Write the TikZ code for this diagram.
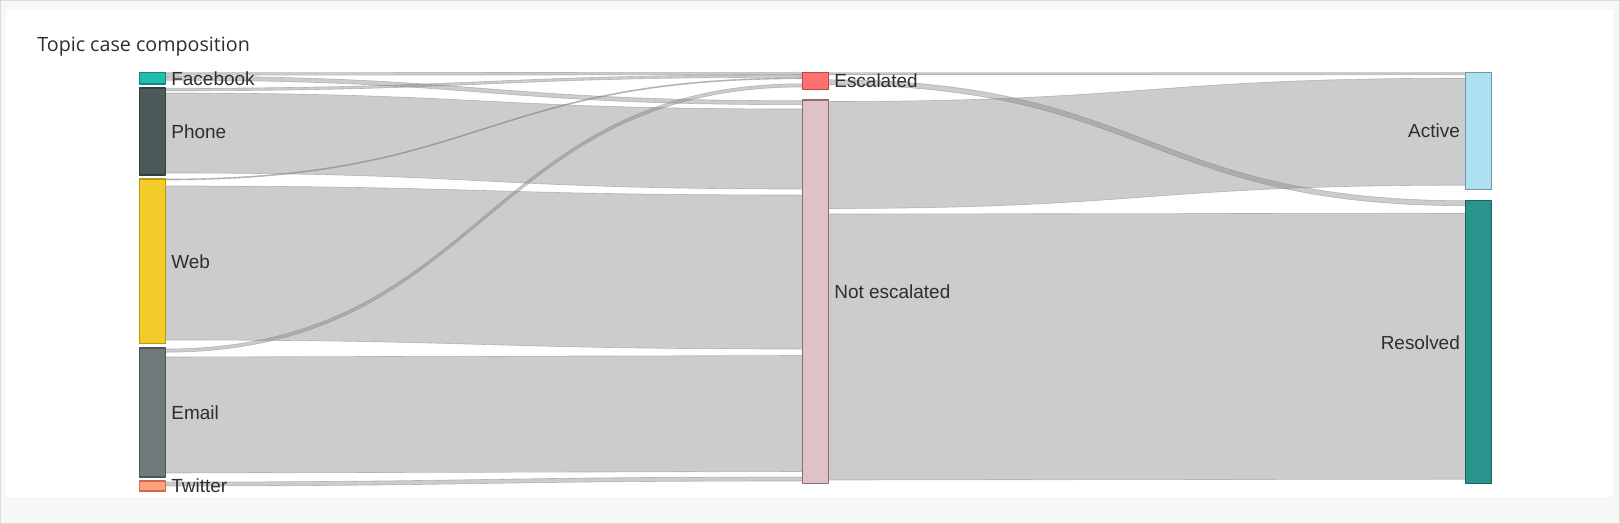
\documentclass[tikz,border=0pt]{standalone}
\usepackage{xcolor}
\usepackage{fontspec}
\setmainfont{Liberation Sans}
\newfontfamily\titlefont{Open Sans}
\usepackage{tikz}
\usetikzlibrary{positioning,calc,backgrounds}
\definecolor{qqbfaf}{rgb}{0.12,0.75,0.69}
\definecolor{qqcbcb}{rgb}{0.09,0.52,0.48}
\definecolor{dsfafa}{rgb}{0.29,0.35,0.35}
\definecolor{cdcfcf}{rgb}{0.2,0.25,0.25}
\definecolor{ffcdqq}{rgb}{0.95,0.8,0.16}
\definecolor{bbaaqq}{rgb}{0.72,0.6,0.08}
\definecolor{gfhchc}{rgb}{0.43,0.48,0.48}
\definecolor{ccdfdf}{rgb}{0.3,0.34,0.34}
\definecolor{ffaawx}{rgb}{1.,0.63,0.48}
\definecolor{ccgaea}{rgb}{0.78,0.42,0.33}
\definecolor{ffwwww}{rgb}{1.,0.44,0.44}
\definecolor{bbdddd}{rgb}{0.75,0.27,0.27}
\definecolor{eeccce}{rgb}{0.88,0.76,0.77}
\definecolor{ddgcgc}{rgb}{0.55,0.43,0.44}
\definecolor{aaeeff}{rgb}{0.68,0.88,0.94}
\definecolor{gaabbf}{rgb}{0.42,0.6,0.66}
\definecolor{cfaaaa}{rgb}{0.16,0.58,0.55}
\definecolor{aaggfd}{rgb}{0.1,0.4,0.38}
\definecolor{zzzzzz}{rgb}{0.18,0.18,0.18}
\definecolor{wwwwww}{rgb}{0.97,0.97,0.97}
\definecolor{dcdcdc}{rgb}{0.86,0.86,0.86}
\definecolor{xxxxxx}{rgb}{0.5,0.5,0.5}
\newcommand{\link}[6]{%
\path ($(#1.north east)+(0,#2)$) coordinate (s1) ($(#1.north east)+(0,#2+#5)$) coordinate (s2)
($(#3.north west)+(0,#4)$) coordinate (t1) ($(#3.north west)+(0,#4+#5)$) coordinate (t2);
\draw[flow] (s1) .. controls (#6 |- s1) and (#6 |- t1) .. (t1) -- (t2) .. controls (#6 |- t2) and (#6 |- s2) .. (s2) -- cycle;}
\begin{document}
\begin{tikzpicture}[line cap=round,line join=round,x=0.02cm,y=-0.02cm,
box/.style={rectangle,inner sep=0pt,outer sep=0pt,minimum width=0.52cm,line width=0.6pt,anchor=north west},
lbl/.style={inner sep=0pt,text=zzzzzz,font=\fontsize{10.8}{12}\selectfont},
flow/.style={fill=xxxxxx,fill opacity=0.4,draw=xxxxxx,draw opacity=0.45,line width=0.35pt}]
\useasboundingbox (0,0) rectangle (1620,524);
\node[anchor=base west,inner sep=0pt,text=zzzzzz,font=\titlefont\fontsize{11.2}{13}\selectfont] (title) at (37,51.7) {Topic case composition};
\node[box,fill=qqbfaf,draw=qqcbcb,minimum height=0.226cm] (fb) at (139.5,72.7) {};
\node[box,fill=dsfafa,draw=cdcfcf,minimum height=1.74cm] (ph) at (139.5,88) {};
\node[box,fill=ffcdqq,draw=bbaaqq,minimum height=3.3cm] (web) at (139.5,179) {};
\node[box,fill=gfhchc,draw=ccdfdf,minimum height=2.58cm] (em) at (139.5,348) {};
\node[box,fill=ffaawx,draw=ccgaea,minimum height=0.2cm] (tw) at (139.5,481) {};
\node[box,fill=ffwwww,draw=bbdddd,minimum height=0.34cm] (esc) at (802.5,72.3) {};
\node[box,fill=eeccce,draw=ddgcgc,minimum height=7.68cm] (nesc) at (802.5,100) {};
\node[box,fill=aaeeff,draw=gaabbf,minimum height=2.332cm] (act) at (1465.7,72.7) {};
\node[box,fill=cfaaaa,draw=aaggfd,minimum height=5.666cm] (res) at (1465.7,200.7) {};
\node[lbl,right=0.11cm of fb] (fbl) {Facebook};
\node[lbl,right=0.11cm of ph] (phl) {Phone};
\node[lbl,right=0.11cm of web] (webl) {Web};
\node[lbl,right=0.11cm of em] (eml) {Email};
\node[lbl,right=0.11cm of tw] (twl) {Twitter};
\node[lbl,right=0.11cm of esc] (escl) {Escalated};
\node[lbl,right=0.11cm of nesc] (nescl) {Not escalated};
\node[lbl,left=0.11cm of act] (actl) {Active};
\node[lbl,left=0.11cm of res] (resl) {Resolved};
\coordinate (mL) at (484,0);
\coordinate (mR) at (1147.1,0);
\begin{pgfonlayer}{background}
\fill[wwwwww] (0,0) rectangle (1620,524);
\draw[dcdcdc,line width=0.6pt] (0.5,0.5) rectangle (1619.5,523.5);
\fill[white] (6,9.5) rectangle (1613,497);
\link{fb}{0}{esc}{0}{2.5}{mL}
\link{fb}{3.5}{nesc}{0.7}{4}{mL}
\link{ph}{0.3}{esc}{2.5}{2.5}{mL}
\link{ph}{5}{nesc}{9}{80}{mL}
\link{web}{0}{esc}{5.5}{1}{mL}
\link{web}{7}{nesc}{95}{154}{mL}
\link{em}{1}{esc}{11.5}{3.2}{mL}
\link{em}{9}{nesc}{255.5}{116}{mL}
\link{tw}{1}{nesc}{377}{4}{mL}
\link{esc}{0.5}{act}{0}{2}{mR}
\link{esc}{7.5}{res}{0}{5}{mR}
\link{nesc}{1.5}{act}{5.5}{107}{mR}
\link{nesc}{114}{res}{12.5}{266}{mR}
\end{pgfonlayer}
\end{tikzpicture}
\end{document}
